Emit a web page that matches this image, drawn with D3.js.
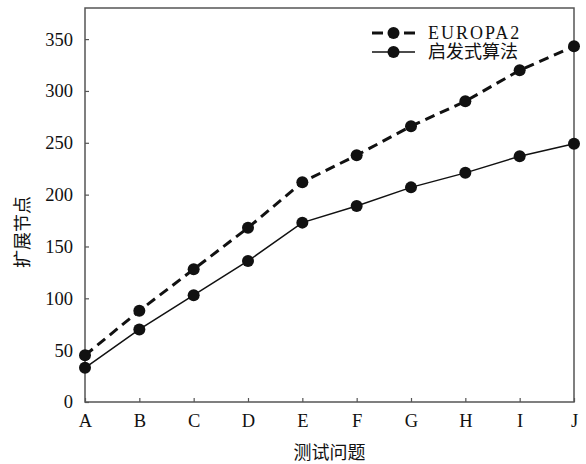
<!DOCTYPE html>
<html>
<head>
<meta charset="utf-8">
<style>
  body { margin: 0; background: #fff; }
  svg text { font-family: "Liberation Serif", "Noto Sans CJK SC", serif; fill: #111; }
</style>
</head>
<body>
<svg></svg>
<script src="https://d3js.org/d3.v7.min.js"></script>
<script>
  const width = 586, height = 464;
  const margin = { top: 8, right: 12, bottom: 62, left: 85 };

  // data
  const problems = ["A", "B", "C", "D", "E", "F", "G", "H", "I", "J"];
  const europa2 = [45, 88, 128, 168, 212, 238, 266, 290, 320, 343];
  const heuristic = [33, 70, 103, 136, 173, 189, 207, 221, 237, 249];
  const yTicks = [0, 50, 100, 150, 200, 250, 300, 350];
  const seriesNames = ["EUROPA2", "启发式算法"];

  const svg = d3.select("svg").attr("width", width).attr("height", height);

  const x = d3.scalePoint()
    .domain(problems)
    .range([margin.left, width - margin.right]);
  const y = d3.scaleLinear()
    .domain([0, 380])
    .range([height - margin.bottom, margin.top]);

  const axisColor = "#555";

  // frame
  svg.append("rect")
    .attr("x", margin.left).attr("y", margin.top)
    .attr("width", width - margin.right - margin.left)
    .attr("height", height - margin.bottom - margin.top)
    .attr("fill", "none")
    .attr("stroke", axisColor)
    .attr("stroke-width", 1.5);

  // x axis
  const xAxis = svg.append("g")
    .attr("transform", `translate(0,${height - margin.bottom})`)
    .call(d3.axisBottom(x).tickSizeInner(-4).tickSizeOuter(0).tickPadding(12));
  xAxis.select(".domain").remove();
  xAxis.selectAll("line").attr("stroke", axisColor).attr("stroke-width", 1.2);
  xAxis.selectAll("text").attr("font-size", 18.5).attr("fill", "#111");

  // y axis
  const yAxis = svg.append("g")
    .attr("transform", `translate(${margin.left},0)`)
    .call(d3.axisLeft(y).tickValues(yTicks).tickSizeInner(-4).tickSizeOuter(0).tickPadding(12));
  yAxis.select(".domain").remove();
  yAxis.selectAll("line").attr("stroke", axisColor).attr("stroke-width", 1.2);
  yAxis.selectAll("text").attr("font-size", 18.5).attr("fill", "#111");

  // axis titles
  svg.append("text")
    .attr("x", (margin.left + width - margin.right) / 2)
    .attr("y", 459)
    .attr("text-anchor", "middle")
    .attr("font-size", 18)
    .text("测试问题");

  svg.append("text")
    .attr("transform", "translate(29,232) rotate(-90)")
    .attr("text-anchor", "middle")
    .attr("font-size", 18)
    .text("扩展节点");

  const line = d3.line()
    .x((d, i) => x(problems[i]))
    .y(d => y(d));

  const series = [
    { name: seriesNames[0], values: europa2, width: 3, dash: "10,6", spacing: 2 },
    { name: seriesNames[1], values: heuristic, width: 1.5, dash: null, spacing: 0 }
  ];

  series.forEach(s => {
    svg.append("path")
      .datum(s.values)
      .attr("d", line)
      .attr("fill", "none")
      .attr("stroke", "#111")
      .attr("stroke-width", s.width)
      .attr("stroke-dasharray", s.dash);
    svg.append("g")
      .selectAll("circle")
      .data(s.values)
      .join("circle")
      .attr("cx", (d, i) => x(problems[i]))
      .attr("cy", d => y(d))
      .attr("r", 6)
      .attr("fill", "#111");
  });

  // legend
  const legend = svg.append("g").attr("transform", "translate(372,33)");
  series.forEach((s, i) => {
    const g = legend.append("g").attr("transform", `translate(0,${i * 19})`);
    if (s.dash) {
      g.append("line").attr("x1", 0).attr("x2", 11).attr("stroke", "#111").attr("stroke-width", 3);
      g.append("line").attr("x1", 32).attr("x2", 43).attr("stroke", "#111").attr("stroke-width", 3);
    } else {
      g.append("line").attr("x1", 0).attr("x2", 43).attr("stroke", "#111").attr("stroke-width", 1.5);
    }
    g.append("circle").attr("cx", 21.5).attr("cy", 0).attr("r", 6).attr("fill", "#111");
    g.append("text")
      .attr("x", 56).attr("y", 0).attr("dy", "0.35em")
      .attr("font-size", 18)
      .attr("letter-spacing", s.spacing)
      .text(s.name);
  });
</script>
</body>
</html>
